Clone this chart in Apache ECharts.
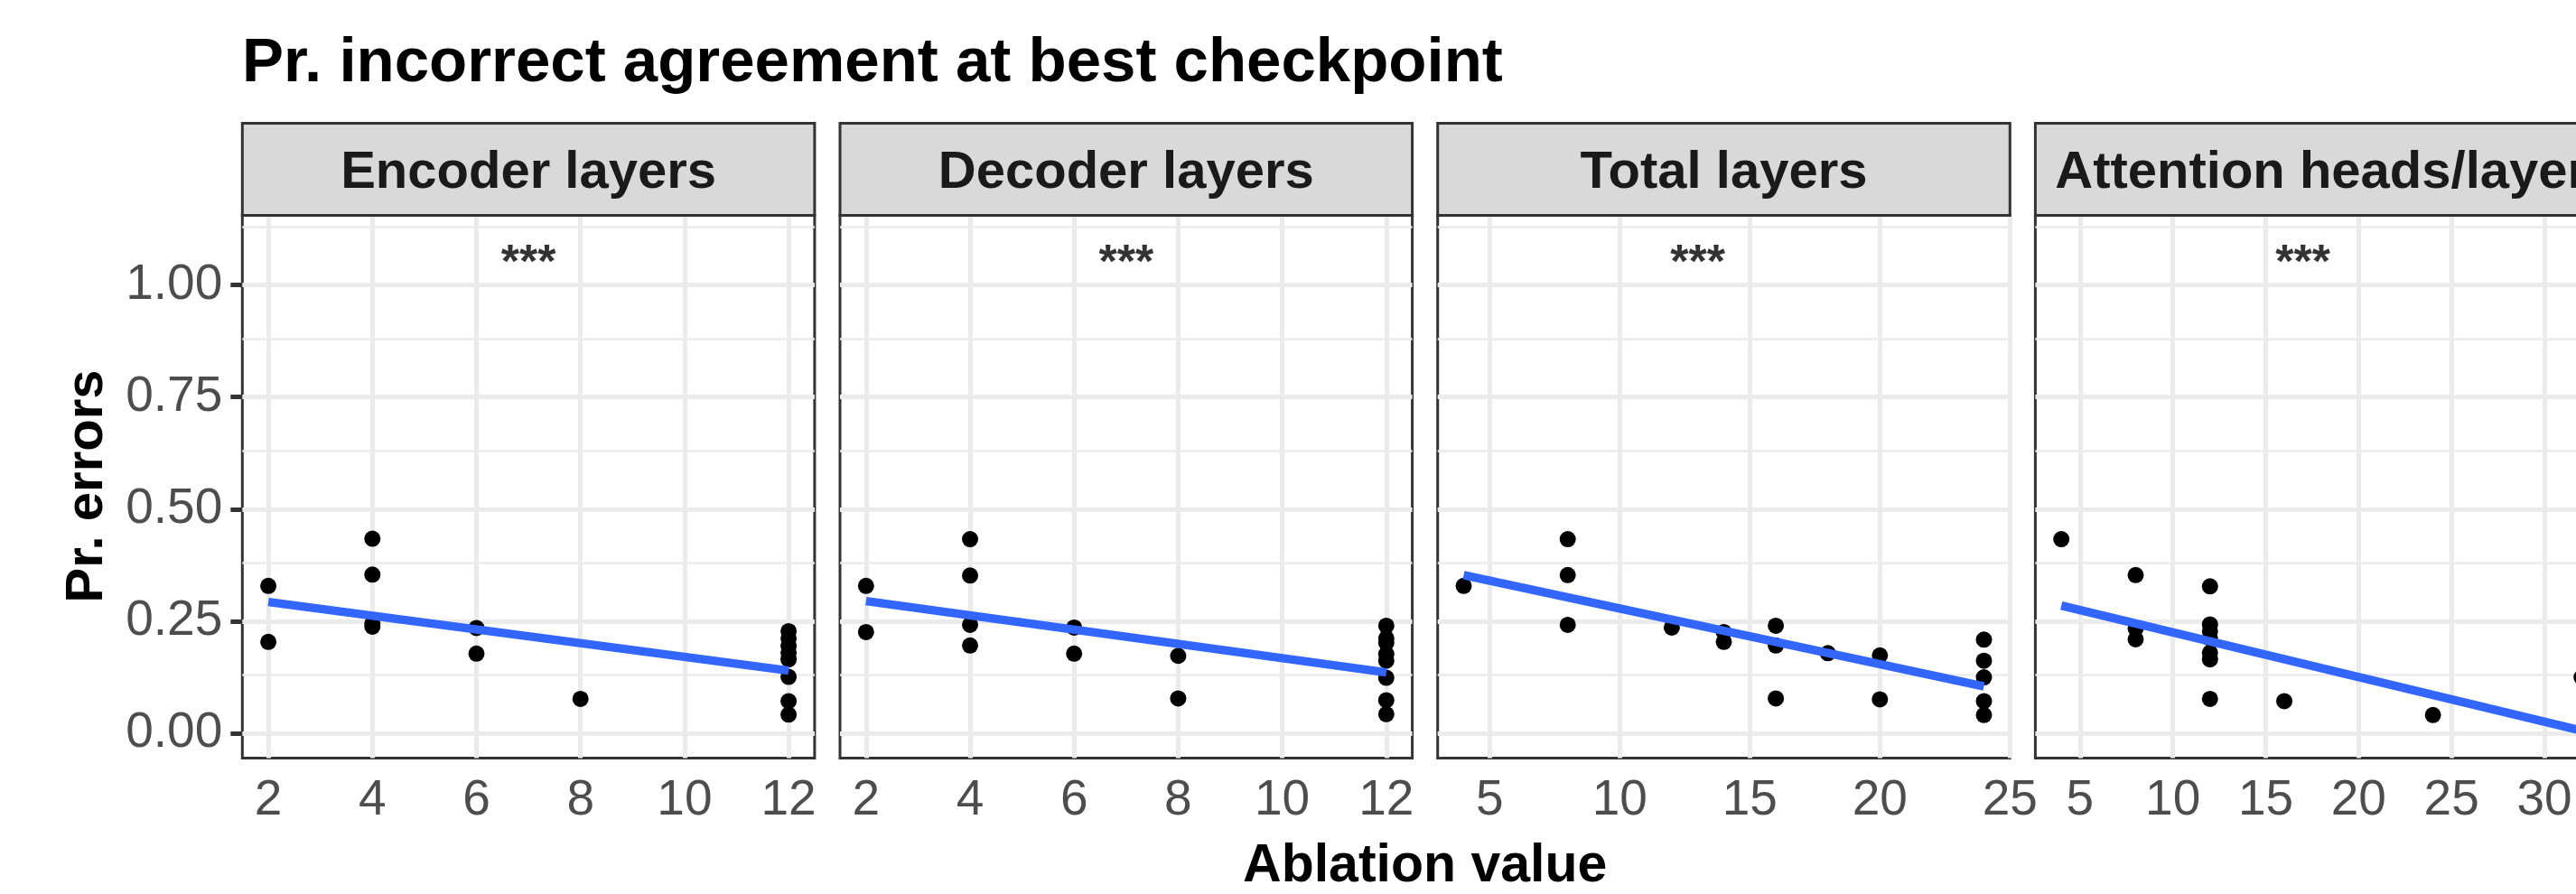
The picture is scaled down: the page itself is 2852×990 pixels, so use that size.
<!DOCTYPE html>
<html><head><meta charset="utf-8">
<script src="https://cdn.jsdelivr.net/npm/echarts@6/dist/echarts.min.js"></script>
<style>html,body{margin:0;padding:0;background:#fff}#c{width:2852px;height:990px}</style>
</head><body><div id="c"></div>
<script>
// ---- data ----
const panelTitles = ['Encoder layers', 'Decoder layers', 'Total layers', 'Attention heads/layer'];
const encoderX = [2, 2, 4, 4, 4, 4, 6, 6, 8, 12, 12, 12, 12, 12, 12, 12, 12];
const encoderY = [0.329, 0.204, 0.434, 0.354, 0.245, 0.238, 0.235, 0.178, 0.077, 0.228, 0.212, 0.195, 0.180, 0.165, 0.126, 0.072, 0.042];
const decoderX = [2, 2, 4, 4, 4, 4, 6, 6, 8, 8, 12, 12, 12, 12, 12, 12, 12, 12];
const decoderY = [0.329, 0.226, 0.433, 0.352, 0.242, 0.196, 0.236, 0.178, 0.173, 0.078, 0.240, 0.212, 0.202, 0.177, 0.162, 0.124, 0.074, 0.043];
const totalX = [4, 8, 8, 8, 12, 14, 14, 16, 16, 16, 18, 20, 20, 24, 24, 24, 24, 24];
const totalY = [0.329, 0.433, 0.353, 0.242, 0.236, 0.226, 0.204, 0.240, 0.196, 0.078, 0.179, 0.174, 0.076, 0.209, 0.162, 0.125, 0.072, 0.041];
const headsX = [4, 8, 8, 8, 12, 12, 12, 12, 12, 12, 12, 16, 24, 32];
const headsY = [0.433, 0.353, 0.234, 0.210, 0.328, 0.243, 0.228, 0.212, 0.180, 0.165, 0.077, 0.072, 0.041, 0.125];
// linear fit endpoints
const fitX = [[2, 12], [2, 12], [4, 24], [4, 32]];
const fitY = [[0.293, 0.140], [0.295, 0.136], [0.353, 0.105], [0.285, 0.006]];
// significance annotations
const starX = [7, 7, 13, 17];
const starY = [1.045, 1.045, 1.045, 1.045];
const starText = ['***', '***', '***', '***'];
// axes
const xLimits = [[1.5, 12.5], [1.5, 12.5], [3, 25], [2.6, 33.4]];
const xTicks = [[2, 4, 6, 8, 10, 12], [2, 4, 6, 8, 10, 12], [5, 10, 15, 20, 25], [5, 10, 15, 20, 25, 30]];
const yLimits = [-0.055, 1.155];
const yTicks = [0, 0.25, 0.5, 0.75, 1];
const yMinor = [0.125, 0.375, 0.625, 0.875, 1.125];
const titleText = 'Pr. incorrect agreement at best checkpoint';
const yTitle = 'Pr. errors';
const xTitle = 'Ablation value';

const seriesX = [encoderX, decoderX, totalX, headsX];
const seriesY = [encoderY, decoderY, totalY, headsY];

// ---- layout ----
const FONT = '"Liberation Sans", Arial, Helvetica, sans-serif';
const panelLeft0 = 268.3, pitch = 661.7, panelW = 633.6;
const panelTop = 238.5, panelH = 601;
const stripTop = 136.5;

const chart = echarts.init(document.getElementById('c'), null, {renderer: 'canvas'});
const grids = [], xAxes = [], yAxes = [], series = [], graphics = [];

for (let i = 0; i < 4; i++) {
  const left = panelLeft0 + i * pitch;
  grids.push({left: left, top: panelTop, width: panelW, height: panelH, show: true,
    outerBoundsMode: 'none',
    borderColor: '#333333', borderWidth: 3, backgroundColor: '#FFFFFF', containLabel: false});
  xAxes.push({type: 'value', gridIndex: i, min: xLimits[i][0], max: xLimits[i][1],
    axisLine: {show: false}, splitLine: {show: false},
    axisTick: {show: true, customValues: xTicks[i], length: 13, lineStyle: {color: '#333333', width: 5}},
    axisLabel: {customValues: xTicks[i], fontSize: 55, color: '#4D4D4D', fontFamily: FONT, margin: 20}});
  yAxes.push({type: 'value', gridIndex: i, min: yLimits[0], max: yLimits[1],
    axisLine: {show: false}, splitLine: {show: false},
    axisTick: {show: i === 0, customValues: yTicks, length: 13, lineStyle: {color: '#333333', width: 5}},
    axisLabel: {show: i === 0, customValues: yTicks, fontSize: 55, color: '#4D4D4D', fontFamily: FONT, margin: 22,
      formatter: v => Number(v).toFixed(2)}});

  const gl = [];
  yMinor.forEach(v => gl.push({yAxis: v, lineStyle: {width: 2.5}}));
  yTicks.forEach(v => gl.push({yAxis: v, lineStyle: {width: 5}}));
  xTicks[i].forEach(v => gl.push({xAxis: v, lineStyle: {width: 5}}));
  series.push({type: 'line', xAxisIndex: i, yAxisIndex: i, data: [], z: 1, silent: true, animation: false,
    markLine: {z: 1, silent: true, symbol: ['none', 'none'], animation: false, label: {show: false},
      lineStyle: {type: 'solid', color: '#EBEBEB', width: 5}, emphasis: {disabled: true}, data: gl}});

  series.push({type: 'scatter', xAxisIndex: i, yAxisIndex: i, z: 20, animation: false, silent: true,
    symbol: 'circle', symbolSize: 18, itemStyle: {color: '#000000', opacity: 1},
    data: seriesX[i].map((x, k) => [x, seriesY[i][k]])});

  series.push({type: 'line', xAxisIndex: i, yAxisIndex: i, z: 21, animation: false, silent: true,
    showSymbol: false, symbol: 'none', lineStyle: {color: '#3366FF', width: 9.5, opacity: 1},
    data: fitX[i].map((x, k) => [x, fitY[i][k]])});

  series.push({type: 'scatter', xAxisIndex: i, yAxisIndex: i, z: 22, animation: false, silent: true,
    symbol: 'circle', symbolSize: 1, itemStyle: {color: 'rgba(0,0,0,0)'},
    label: {show: true, position: 'inside', formatter: starText[i], fontSize: 52, color: '#000000',
      fontFamily: FONT, fontWeight: 'bold'},
    data: [[starX[i], starY[i]]]});

  graphics.push({type: 'rect', z: 30, shape: {x: left, y: stripTop, width: panelW, height: panelTop - stripTop},
    style: {fill: '#D9D9D9', stroke: '#333333', lineWidth: 3}});
  graphics.push({type: 'text', z: 31, x: left + panelW / 2, y: 191.5,
    style: {text: panelTitles[i], font: 'bold 58px ' + FONT, fill: '#1A1A1A',
      align: 'center', verticalAlign: 'middle', textAlign: 'center', textVerticalAlign: 'middle'}});
}

graphics.push({type: 'text', z: 31, x: 268, y: 71,
  style: {text: titleText, font: 'bold 69px ' + FONT, fill: '#000000',
    align: 'left', verticalAlign: 'middle', textAlign: 'left', textVerticalAlign: 'middle'}});
graphics.push({type: 'text', z: 31, x: 97, y: 538.5, rotation: Math.PI / 2,
  style: {text: yTitle, font: 'bold 58px ' + FONT, fill: '#000000',
    align: 'center', verticalAlign: 'middle', textAlign: 'center', textVerticalAlign: 'middle'}});
graphics.push({type: 'text', z: 31, x: panelLeft0 + (3 * pitch + panelW) / 2, y: 960,
  style: {text: xTitle, font: 'bold 59px ' + FONT, fill: '#000000',
    align: 'center', verticalAlign: 'middle', textAlign: 'center', textVerticalAlign: 'middle'}});

chart.setOption({
  animation: false,
  backgroundColor: '#FFFFFF',
  grid: grids, xAxis: xAxes, yAxis: yAxes, series: series,
  graphic: {elements: graphics}
});
</script></body></html>
